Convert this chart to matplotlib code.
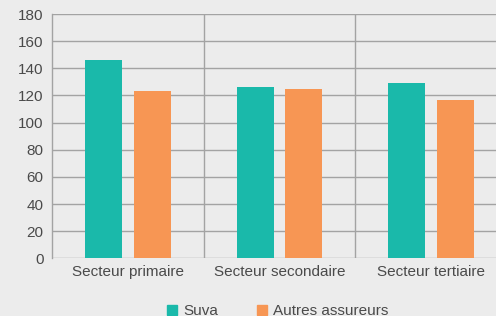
import numpy as np
import matplotlib.pyplot as plt
from matplotlib.patches import Patch

# ========== Data ==========
categories = ["Secteur primaire", "Secteur secondaire", "Secteur tertiaire"]
suva = [146, 126, 129]
autres = [123, 125, 117]
series_names = ["Suva", "Autres assureurs"]
yticks = [0, 20, 40, 60, 80, 100, 120, 140, 160, 180]

# ========== Style ==========
bg = "#ececec"
teal = "#1ab9aa"
orange = "#f79654"
grid_col = "#a3a3a3"
text_col = "#4a4a4a"
fs = 11

plt.rcParams["font.family"] = ["Liberation Sans", "DejaVu Sans"]

fig = plt.figure(figsize=(4.96, 3.16), dpi=100, facecolor=bg)
W, H = 496, 316
# axes deliberately extends past the right edge (as in the reference)
ax = fig.add_axes([52 / W, (H - 258.3) / H, 3 * 151.7 / W, 244.3 / H], facecolor=bg)

x = np.arange(len(categories))
bw = 0.244
ax.bar(x + 0.34, suva, bw, color=teal, zorder=3)
ax.bar(x + 0.66, autres, bw, color=orange, zorder=3)

ax.set_xlim(0, len(categories))
ax.set_ylim(0, 180)
ax.set_yticks(yticks)
ax.set_xticks(x + 0.5)
ax.set_xticklabels(categories)

for y in yticks:
    ax.axhline(y, color=grid_col, lw=1.0, zorder=1)
for xv in x[1:]:
    ax.axvline(xv, color=grid_col, lw=1.0, zorder=1)

for s in ["top", "right", "bottom"]:
    ax.spines[s].set_visible(False)
ax.spines["left"].set_color(grid_col)
ax.spines["left"].set_linewidth(1.0)

ax.tick_params(axis="both", length=0, colors=text_col, labelsize=fs)
ax.tick_params(axis="y", pad=6)
ax.tick_params(axis="x", pad=5)

handles = [Patch(color=teal, label=series_names[0]),
           Patch(color=orange, label=series_names[1])]
leg = fig.legend(handles=handles, loc="center left", bbox_to_anchor=(167 / W, 1 - 311 / H),
                 ncol=2, frameon=False, fontsize=fs, borderpad=0, borderaxespad=0,
                 handlelength=0.65, handleheight=0.65, handletextpad=0.4,
                 columnspacing=2.55, labelcolor=text_col)

fig.savefig("out.png", dpi=100, facecolor=bg)
